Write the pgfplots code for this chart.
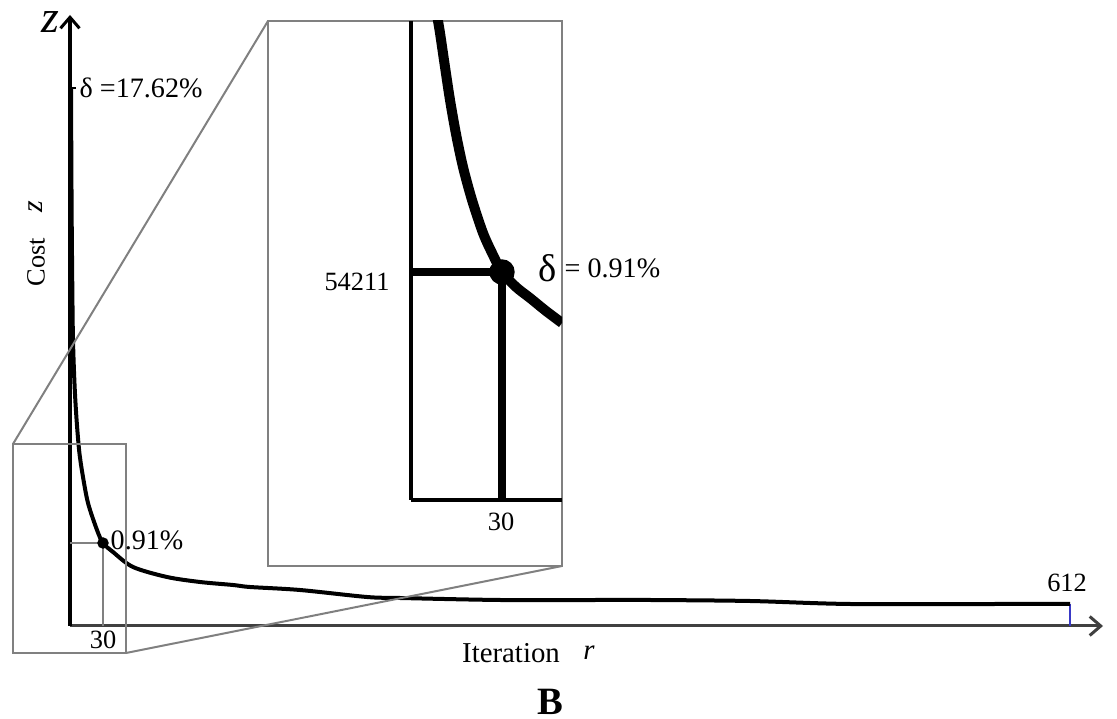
\documentclass[border=0pt]{standalone}
\usepackage{pgfplots}
\pgfplotsset{compat=1.18}
\usepackage{fontspec}
\setmainfont{Liberation Serif}
\usetikzlibrary{arrows.meta}
\begin{document}
\begin{tikzpicture}[x=0.1mm,y=0.1mm]
\useasboundingbox (0,0) rectangle (111.7mm,71.9mm);
% ---------------- main axis ----------------
\begin{axis}[
  at={(7mm,9.3mm)}, anchor=south west, scale only axis,
  x=0.1mm, y=0.1mm,
  xmin=0, xmax=1033, ymin=0, ymax=611,
  axis lines=left,
  x axis line style={black!75, line width=0.3mm, -{Straight Barb[length=1.1mm,width=1.9mm,line width=0.3mm]}},
  y axis line style={black, line width=0.35mm, -{Straight Barb[length=1.1mm,width=1.9mm,line width=0.3mm]}},
  xtick=\empty, ytick=\empty,
  clip mode=individual,
]
% guides to the point at iteration 30
\addplot[gray, line width=0.15mm] coordinates {(0,83) (33,83)};
\addplot[gray, line width=0.15mm] coordinates {(33,83) (33,0)};
% last iteration marker
\addplot[blue!55!gray, line width=0.15mm] coordinates {(1000,0) (1000,22)};
% tick for first value
\addplot[black, line width=0.15mm] coordinates {(0,538) (6,538)};
% cost curve
\addplot[black, line width=0.4mm, smooth, tension=0.5] coordinates {
 (1,538) (1.6,420) (2.3,340) (3,286) (4.6,240) (6.6,206) (9.2,175) (12.5,152)
 (18,123) (27,96) (33,83) (43,74) (63,59) (97,49) (130,44) (163,41) (180,39)
 (230,36) (297,29) (330,28) (430,26) (530,26) (580,26) (680,25) (780,22)
 (930,22) (1000,22)};
\addplot[only marks, mark=*, mark size=0.5mm, black] coordinates {(33,83)};
% zoom boxes
\draw[gray, line width=0.2mm] (axis cs:-57,182) rectangle (axis cs:56,-27);
\draw[gray, line width=0.2mm] (axis cs:198,605) rectangle (axis cs:492,60);
\draw[gray, line width=0.2mm] (axis cs:-57,182) -- (axis cs:198,605);
\draw[gray, line width=0.2mm] (axis cs:56,-27) -- (axis cs:492,60);
% labels
\node[anchor=west, inner sep=0pt, font=\fontsize{8}{9.6}\selectfont] at (axis cs:9,538) {δ =17.62\%};
\node[anchor=west, inner sep=0pt, font=\fontsize{8}{9.6}\selectfont] at (axis cs:40,86) {0.91\%};
\node[inner sep=0pt, font=\fontsize{7.5}{9}\selectfont] at (axis cs:33,-14) {30};
\node[inner sep=0pt, font=\fontsize{7.5}{9}\selectfont] at (axis cs:997,43) {612};
\node[inner sep=0pt, font=\fontsize{8.2}{9.8}\selectfont] at (axis cs:441,-27) {Iteration};
\node[inner sep=0pt, font=\fontsize{8.2}{9.8}\selectfont\itshape] at (axis cs:519,-27) {r};
\node[inner sep=0pt, font=\fontsize{11}{13}\selectfont\bfseries] at (axis cs:480,-76) {B};
\node[inner sep=0pt, rotate=90, font=\fontsize{7.5}{9}\selectfont] at (axis cs:-34,364) {Cost};
\node[inner sep=0pt, rotate=90, font=\fontsize{8.5}{10}\selectfont\itshape] at (axis cs:-34,419) {z};
\node[inner sep=0pt, font=\fontsize{13}{15}\selectfont\itshape] at (axis cs:-20,604) {z};
\end{axis}
% ---------------- inset (zoom around iteration 30) ----------------
\begin{axis}[
  at={(41.1mm,21.9mm)}, anchor=south west, scale only axis,
  x=0.1mm, y=0.1mm,
  xmin=0, xmax=151, ymin=0, ymax=479,
  axis lines=left,
  axis line style={black, line width=0.45mm, -},
  xtick=\empty, ytick=\empty,
  clip mode=individual,
]
\addplot[black, line width=0.8mm] coordinates {(0,228) (91,228)};
\addplot[black, line width=0.8mm] coordinates {(91,228) (91,0)};
\addplot[black, line width=1.0mm, smooth, tension=0.5] coordinates {
 (26,485) (29,467) (34,433) (39,400) (45,366) (52,333) (61,300) (72,267)
 (82,245) (91,228) (105,213) (119,202) (135,189) (151,177)};
\addplot[only marks, mark=*, mark size=1.2mm, black] coordinates {(91,228)};
\node[inner sep=0pt, font=\fontsize{7.5}{9}\selectfont] at (axis cs:-54,218) {54211};
\node[inner sep=0pt, font=\fontsize{7.5}{9}\selectfont] at (axis cs:90,-22) {30};
\node[inner sep=0pt, font=\fontsize{11}{13}\selectfont] at (axis cs:137,232) {δ};
\node[anchor=west, inner sep=0pt, font=\fontsize{8}{9.6}\selectfont] at (axis cs:153,232) {= 0.91\%};
\end{axis}
\end{tikzpicture}
\end{document}
